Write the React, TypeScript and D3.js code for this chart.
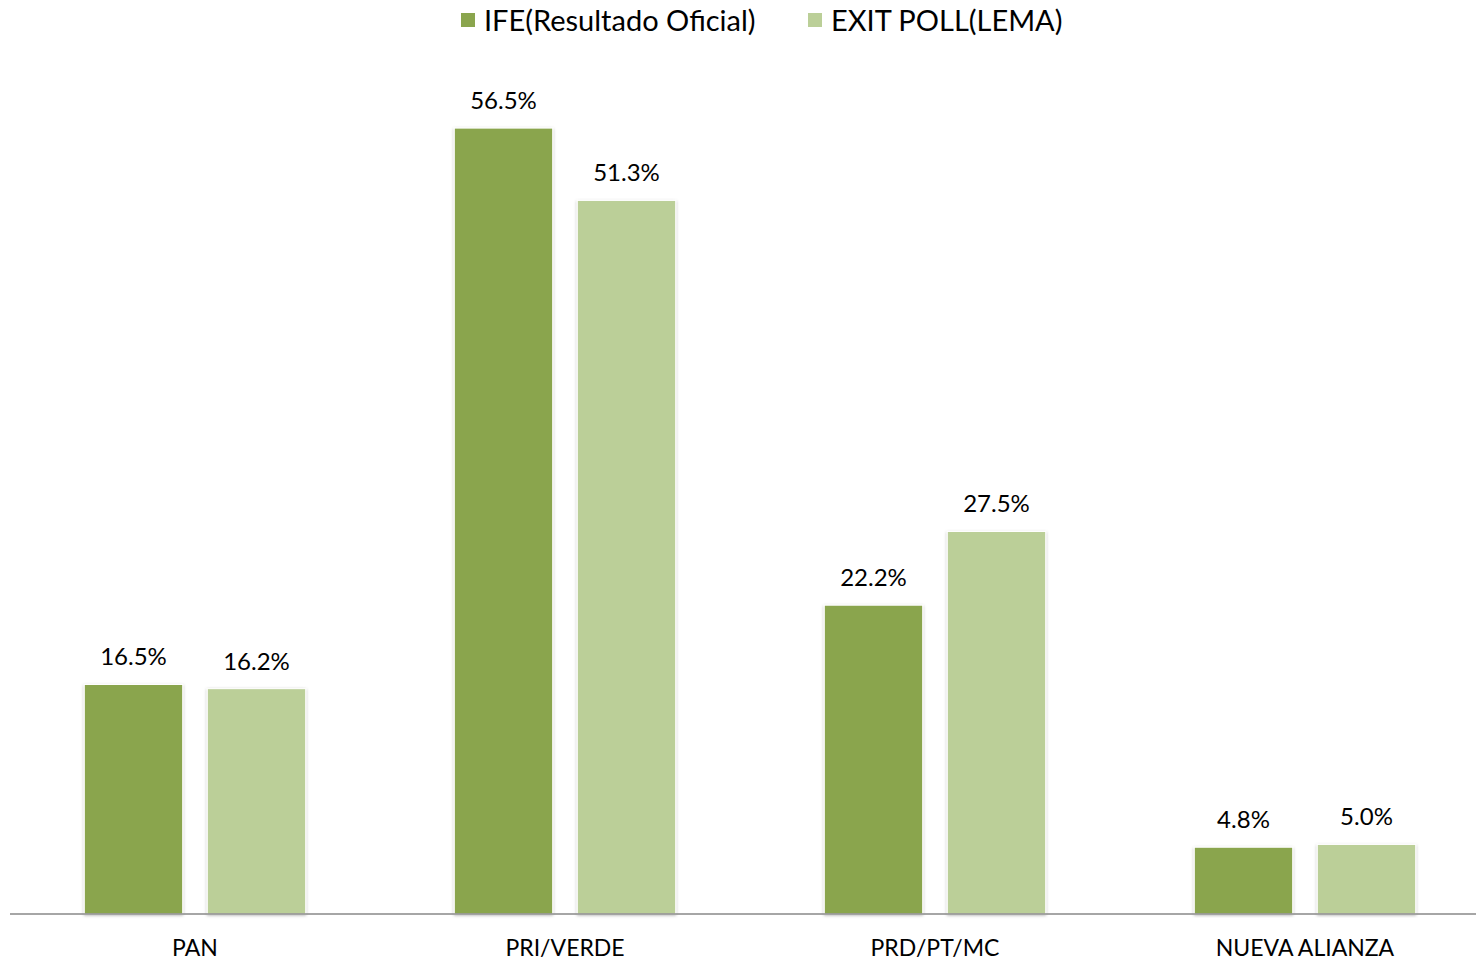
import React from "react";
import * as d3 from "d3";

const categories = ["PAN", "PRI/VERDE", "PRD/PT/MC", "NUEVA ALIANZA"];
const seriesNames = ["IFE(Resultado Oficial)", "EXIT POLL(LEMA)"];
const ifeValues = [16.5, 56.5, 22.2, 4.8];
const exitValues = [16.2, 51.3, 27.5, 5.0];
const colors = ["#8AA54D", "#BBCF98"];

const W = 1476;
const H = 963;
const FONT = "Lato, 'Open Sans', sans-serif";

export default function App() {
  const x0 = d3.scaleBand<string>().domain(categories).range([10, 1490]).paddingInner(0).paddingOuter(0);
  const x1 = d3
    .scaleBand<number>()
    .domain([0, 1])
    .range([0, x0.bandwidth()])
    .paddingInner(0.2)
    .paddingOuter(0.604);
  const y = d3.scaleLinear().domain([0, 60]).range([914, 914 - 60 * 13.91]);
  const series = [ifeValues, exitValues];

  return (
    <svg width={W} height={H} style={{ position: "absolute", left: 0, top: 0 }}>
      <defs>
        <filter id="sh" x="-20%" y="-5%" width="140%" height="110%">
          <feDropShadow dx="0" dy="1" stdDeviation="1.5" floodColor="#000" floodOpacity="0.3" />
        </filter>
      </defs>
      <rect width={W} height={H} fill="#fff" />
      {seriesNames.map((name, i) => {
        const lx = [461, 808][i];
        return (
          <g key={name}>
            <rect x={lx} y={13} width={14} height={14} fill={colors[i]} />
            <text x={lx + 23} y={31} fontFamily={FONT} fontSize={29} fill="#000">
              {name}
            </text>
          </g>
        );
      })}
      {categories.map((c, ci) => (
        <g key={c} transform={`translate(${x0(c)},0)`}>
          {series.map((vals, si) => {
            const bx = x1(si)!;
            const bw = x1.bandwidth();
            const v = vals[ci];
            return (
              <g key={si}>
                <rect
                  x={bx}
                  y={y(v)}
                  width={bw}
                  height={y(0) - y(v)}
                  fill={colors[si]}
                  stroke="#fff"
                  strokeWidth={1}
                  filter="url(#sh)"
                />
                <text
                  x={bx + bw / 2}
                  y={y(v) - 19}
                  textAnchor="middle"
                  fontFamily={FONT}
                  fontSize={24}
                  fill="#000"
                >
                  {v.toFixed(1)}%
                </text>
              </g>
            );
          })}
          <text
            x={x0.bandwidth() / 2}
            y={956}
            textAnchor="middle"
            fontFamily={FONT}
            fontSize={23}
            fill="#000"
          >
            {c}
          </text>
        </g>
      ))}
      <line x1={10} x2={W} y1={914} y2={914} stroke="#888" strokeWidth={1.5} />
    </svg>
  );
}
